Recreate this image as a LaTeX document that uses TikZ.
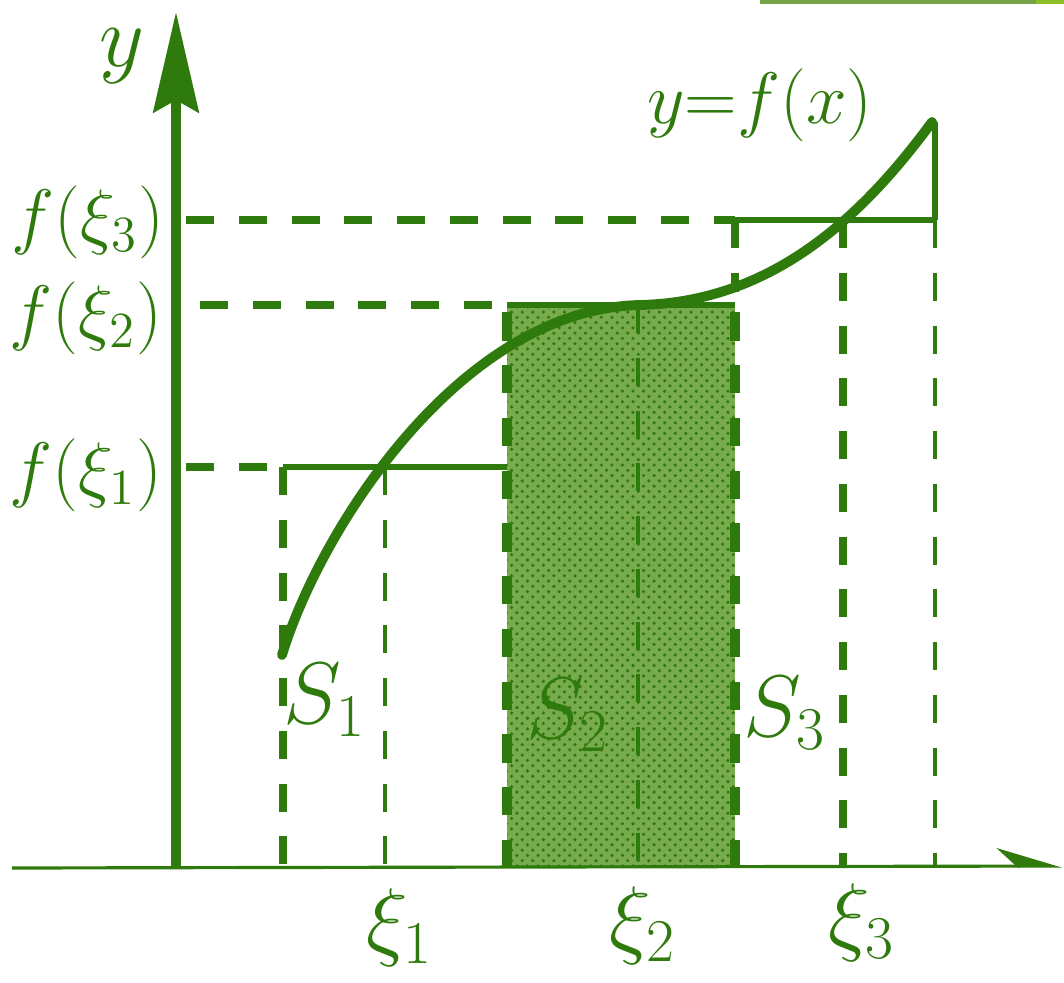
\documentclass[tikz,border=0pt]{standalone}
\usepackage{amsmath}
\usetikzlibrary{arrows.meta,positioning,patterns}
\definecolor{dkgreen}{RGB}{46,122,12}
\definecolor{shadegreen}{RGB}{120,170,78}
\definecolor{barleft}{RGB}{118,162,72}
\definecolor{barright}{RGB}{140,190,40}

\begin{document}
\begin{tikzpicture}[
    x=0.01cm, y=-0.01cm,
    line join=round,
    axis/.style={dkgreen, line width=2.8pt},
    curve/.style={dkgreen, line width=2.8pt, line cap=round},
    guide/.style={dkgreen, line width=2.2pt, dash pattern=on 8pt off 7pt},
    thinguide/.style={dkgreen, line width=1.4pt, dash pattern=on 8pt off 7pt},
    edge/.style={dkgreen, line width=1.5pt},
    lbl/.style={text=dkgreen, inner sep=1pt, font=\fontsize{22}{26}\selectfont},
    big/.style={text=dkgreen, inner sep=1pt, font=\fontsize{26}{30}\selectfont}
  ]
  \useasboundingbox (0,0) rectangle (1064,982);

  % bar of the slide
  \fill[barleft]  (760,0) rectangle (1036,4);
  \fill[barright] (1036,0) rectangle (1064,4);

  % axes
  \coordinate (O)    at (176,868);
  \coordinate (ytip) at (176,12);
  \coordinate (xl)   at (12,868);
  \coordinate (xtip) at (1062,866);

  % shaded strip S2
  \fill[shadegreen] (507,305) rectangle (735,868);
  \fill[pattern=crosshatch dots, pattern color=dkgreen] (507,305) rectangle (735,868);
  \draw[guide, line width=3pt] (507,868) -- (507,305);
  \draw[guide, line width=3pt] (735,868) -- (735,305);

  % levels f(xi_i)
  \draw[guide] (186,467) -- (283,467);
  \draw[edge]  (283,467) -- (507,467);
  \draw[guide] (200,305) -- (507,305);
  \draw[edge]  (507,305) -- (735,305);
  \draw[guide] (186,220) -- (735,220);
  \draw[edge]  (735,220) -- (935,220);

  % verticals
  \draw[guide]     (283,467) -- (283,868);
  \draw[thinguide] (385,467) -- (385,868);
  \draw[thinguide] (638,305) -- (638,868);
  \draw[guide]     (735,220) -- (735,292);
  \draw[guide]     (843,220) -- (843,868);
  \draw[edge]      (935,122) -- (935,220);
  \draw[thinguide] (935,220) -- (935,868);

  % the graph
  \draw[curve] (282,655) .. controls (320,530) and (460,309) .. (640,305)
               .. controls (770,302) and (860,220) .. (932,122);

  \draw[axis, -{Stealth[length=1cm, width=0.45cm, inset=0.12cm]}] (O) -- (ytip);
  \draw[dkgreen, line width=0.9pt, -{Stealth[harpoon, length=0.6cm, width=0.36cm]}] (xl) -- (xtip);

  % labels
  \node[big, font=\fontsize{28}{32}\selectfont] (ylab) at (122,56) {$y$};
  \node[lbl] (fxi3) at (88,222) {$f(\xi_3)$};
  \node[lbl] (fxi2) at (86,318) {$f(\xi_2)$};
  \node[lbl] (fxi1) at (86,475) {$f(\xi_1)$};
  \node[lbl] (graph) at (760,105) {$y{=}f(x)$};
  \node[big] (s1) at (325,700) {$S_1$};
  \node[big] (s2) at (568,715) {$S_2$};
  \node[big] (s3) at (785,713) {$S_3$};
  \node[big] (xi1) at (400,928) {$\xi_1$};
  \node[big] (xi2) at (643,926) {$\xi_2$};
  \node[big] (xi3) at (862,923) {$\xi_3$};
\end{tikzpicture}
\end{document}
